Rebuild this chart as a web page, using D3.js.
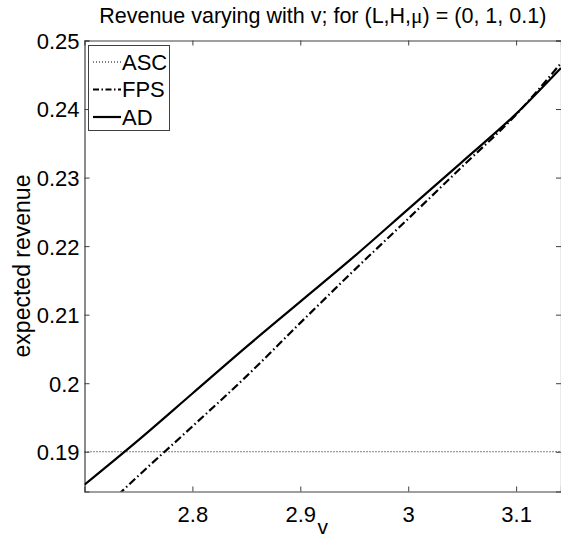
<!DOCTYPE html>
<html><head><meta charset="utf-8">
<script src="https://cdn.jsdelivr.net/npm/d3@7"></script>
<style>body{margin:0;background:#fff}svg{display:block}text{font-family:"Liberation Sans",Arial,sans-serif;fill:#000}</style>
</head><body><svg id="c" width="561" height="540"></svg>
<script>
const vValues = [2.70, 2.75, 2.80, 2.85, 2.90, 2.95, 3.00, 3.05, 3.10, 3.1416];
const adRevenue = [0.1852, 0.1917, 0.1985, 0.2053, 0.2119, 0.2185, 0.2254, 0.2323, 0.2393, 0.2460];
const fpsRevenue = [0.1790, 0.1865, 0.1937, 0.2010, 0.2088, 0.2165, 0.2240, 0.2316, 0.2392, 0.2467];
const ascRevenue = [0.19, 0.19, 0.19, 0.19, 0.19, 0.19, 0.19, 0.19, 0.19, 0.19];
const xTicks = [2.8, 2.9, 3.0, 3.1];
const yTicks = [0.19, 0.20, 0.21, 0.22, 0.23, 0.24, 0.25];
const legendNames = ["ASC", "FPS", "AD"];

const L = 84.5, R = 561, T = 40.5, B = 491.5;
const svg = d3.select("#c");
const x = d3.scaleLinear().domain([2.7, Math.PI]).range([L, R]);
const y = d3.scaleLinear().domain([0.1842, 0.25]).range([B, T]);

const axisColor = "#404040";
svg.append("clipPath").attr("id","pc").append("rect")
  .attr("x", L).attr("y", T).attr("width", R - L).attr("height", B - T);

const fmt = d => d3.format("")(+d.toFixed(2));
const gx = svg.append("g").attr("transform", `translate(0,${B})`)
  .call(d3.axisBottom(x).tickValues(xTicks).tickSize(-5).tickPadding(15).tickFormat(fmt));
const gxt = svg.append("g").attr("transform", `translate(0,${T})`)
  .call(d3.axisTop(x).tickValues(xTicks).tickSize(-5).tickFormat(""));
const gy = svg.append("g").attr("transform", `translate(${L},0)`)
  .call(d3.axisLeft(y).tickValues(yTicks).tickSize(-5).tickPadding(5).tickFormat(fmt));
const gyr = svg.append("g").attr("transform", `translate(${R},0)`)
  .call(d3.axisRight(y).tickValues(yTicks).tickSize(-5).tickFormat(""));
[gx, gxt, gy, gyr].forEach(g => {
  g.selectAll("path").attr("stroke", axisColor).attr("stroke-width", 1.2);
  g.selectAll("line").attr("stroke", axisColor);
  g.selectAll("text").attr("font-size", 22).attr("font-family", '"Liberation Sans",Arial,sans-serif').attr("fill", "#000");
});
gx.selectAll("text").attr("dy", "0.71em");
gy.selectAll("text").attr("dy", "0.36em");

const plot = svg.append("g").attr("clip-path", "url(#pc)");
const line = vals => d3.line().x((d, i) => x(vValues[i])).y(d => y(d)).curve(d3.curveMonotoneX)(vals);
plot.append("path").attr("d", line(ascRevenue)).attr("fill","none").attr("stroke","#000")
  .attr("stroke-width", 1).attr("stroke-dasharray", "1,2");
plot.append("path").attr("d", line(fpsRevenue)).attr("fill","none").attr("stroke","#000")
  .attr("stroke-width", 2.2).attr("stroke-dasharray", "8,3,1.5,3");
plot.append("path").attr("d", line(adRevenue)).attr("fill","none").attr("stroke","#000")
  .attr("stroke-width", 2.2);

const lg = svg.append("g");
lg.append("rect").attr("x", 88.5).attr("y", 45.5).attr("width", 81).attr("height", 85)
  .attr("fill", "#fff").attr("stroke", axisColor).attr("stroke-width", 1);
const styles = [{w:1, d:"1,2"}, {w:2.2, d:"6,2.5,1.5,2.5"}, {w:2.2, d:null}];
legendNames.forEach((n, i) => {
  const cy = 62 + i * 27.5;
  const l = lg.append("line").attr("x1", 93).attr("x2", 121).attr("y1", cy).attr("y2", cy)
    .attr("stroke", "#000").attr("stroke-width", styles[i].w);
  if (styles[i].d) l.attr("stroke-dasharray", styles[i].d);
  lg.append("text").attr("x", 122).attr("y", cy).attr("dy", "0.36em").attr("font-size", 22).text(n);
});

const title = svg.append("text").attr("x", (L + R) / 2).attr("y", 23).attr("text-anchor", "middle").attr("font-size", 21.5);
title.append("tspan").text("Revenue varying with v; for (L,H,");
title.append("tspan").attr("font-family", '"Liberation Serif","DejaVu Serif",serif').text("μ");
title.append("tspan").text(") = (0, 1, 0.1)");
svg.append("text").attr("x", (L + R) / 2).attr("y", 534).attr("text-anchor", "middle").attr("font-size", 21).text("v");
svg.append("text").attr("transform", `translate(30,${(T + B) / 2}) rotate(-90)`).attr("text-anchor", "middle")
  .attr("font-size", 23).text("expected revenue");
</script></body></html>
